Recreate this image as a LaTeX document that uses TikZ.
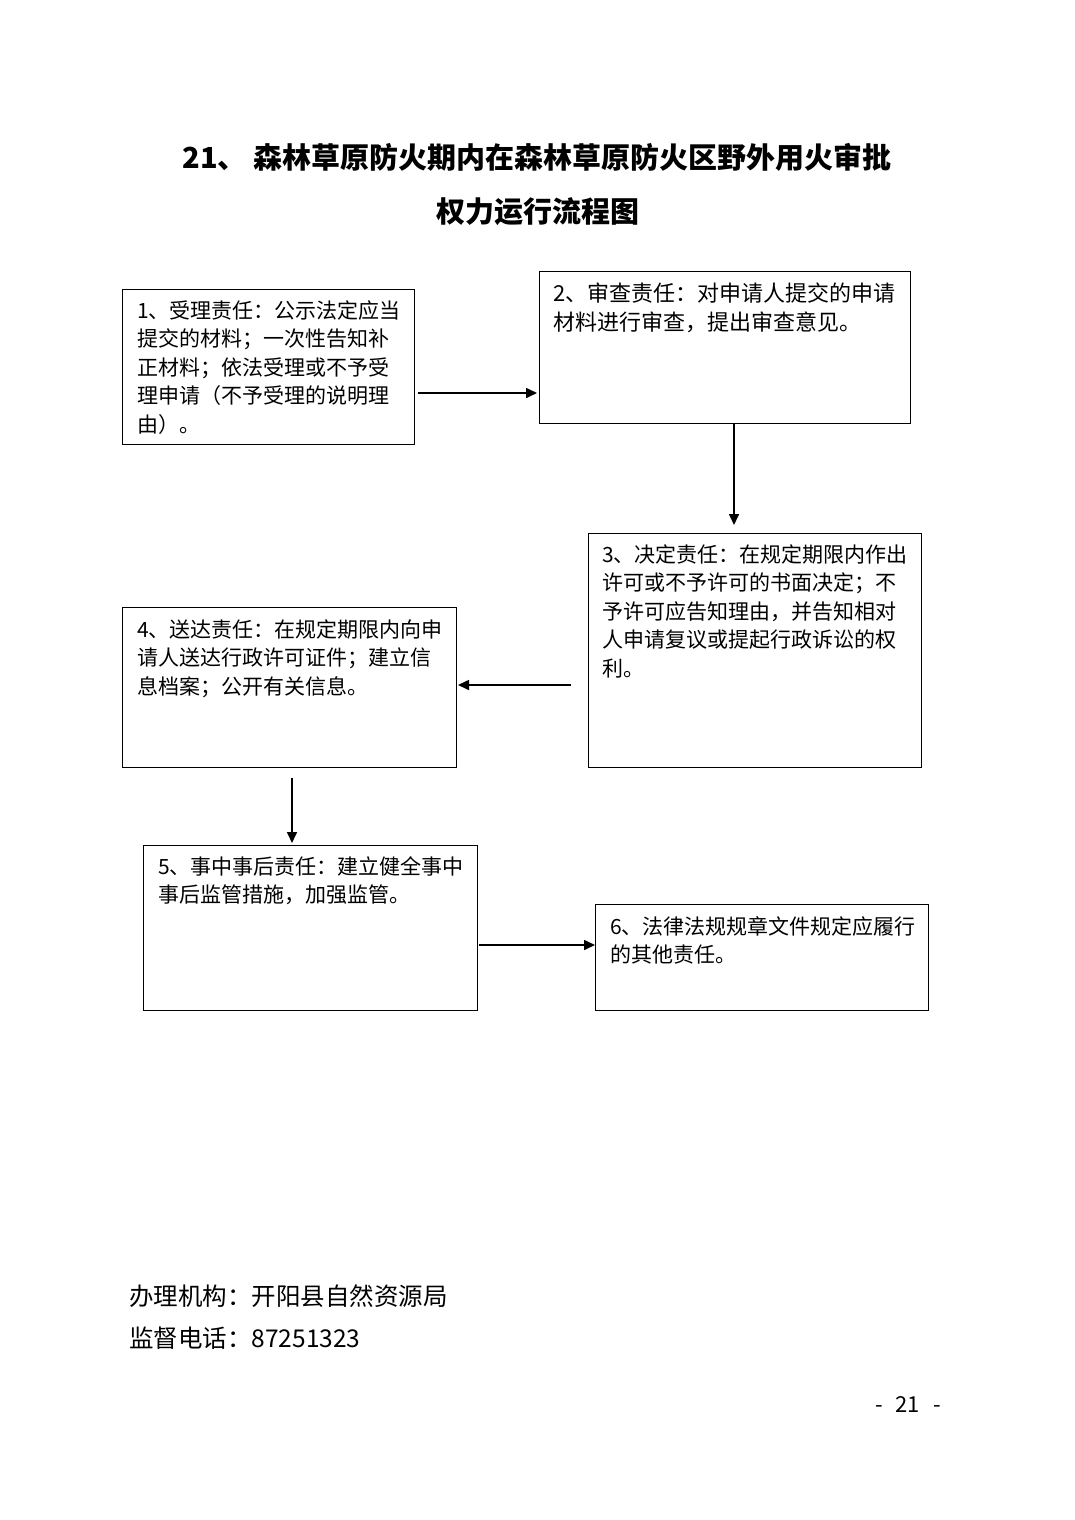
\documentclass[tikz,border=0pt]{standalone}
\usepackage{fontspec}
\setmainfont{Noto Sans CJK SC}
\usetikzlibrary{positioning,calc,arrows.meta}

\begin{document}
\begin{tikzpicture}[x=1pt,y=-1pt,
    box/.style={draw,line width=1pt,anchor=north west,inner sep=0pt},
    txt/.style={anchor=base west,align=left,inner sep=0pt,font=\fontsize{21}{28.5}\selectfont},
    arr/.style={-{Triangle[length=11pt,width=10pt]},line width=1.6pt}]
    \useasboundingbox[fill=white] (0,0) rectangle (1074,1520);
    % title
    \node[font=\bfseries\fontsize{29}{29}\selectfont] (title1) at (537,157) {21、 森林草原防火期内在森林草原防火区野外用火审批};
    \node[font=\bfseries\fontsize{29}{29}\selectfont] (title2) at (538,212) {权力运行流程图};
    % boxes
    \node[box,minimum width=292,minimum height=155] (b1) at (122,289) {};
    \node[box,minimum width=371,minimum height=152] (b2) at (539,271) {};
    \node[box,minimum width=333,minimum height=234] (b3) at (588,533) {};
    \node[box,minimum width=334,minimum height=160] (b4) at (122,607) {};
    \node[box,minimum width=334,minimum height=165] (b5) at (143,845) {};
    \node[box,minimum width=333,minimum height=106] (b6) at (595,904) {};
    % texts (base = last line)
    \node[txt] (t1) at ([shift={(15,143)}]b1.north west) {1、受理责任：公示法定应当\\提交的材料；一次性告知补\\正材料；依法受理或不予受\\理申请（不予受理的说明理\\由）。};
    \node[txt,font=\fontsize{22}{28.5}\selectfont] (t2) at ([shift={(14,59)}]b2.north west) {2、审查责任：对申请人提交的申请\\材料进行审查，提出审查意见。};
    \node[txt] (t3) at ([shift={(14,143)}]b3.north west) {3、决定责任：在规定期限内作出\\许可或不予许可的书面决定；不\\予许可应告知理由，并告知相对\\人申请复议或提起行政诉讼的权\\利。};
    \node[txt] (t4) at ([shift={(15,87)}]b4.north west) {4、送达责任：在规定期限内向申\\请人送达行政许可证件；建立信\\息档案；公开有关信息。};
    \node[txt] (t5) at ([shift={(15,57.5)}]b5.north west) {5、事中事后责任：建立健全事中\\事后监管措施，加强监管。};
    \node[txt] (t6) at ([shift={(15,58.5)}]b6.north west) {6、法律法规规章文件规定应履行\\的其他责任。};
    % arrows
    \draw[arr,shorten <=3pt,shorten >=2pt] (b1.east |- 0,393) -- (b2.west |- 0,393);
    \draw[arr,shorten >=8pt] (b2.south -| 734,0) -- (b3.north -| 734,0);
    \draw[arr,shorten <=17pt,shorten >=1pt] (b3.west |- 0,685) -- (b4.east |- 0,685);
    \draw[arr,shorten <=10pt,shorten >=2pt] (b4.south -| 292,0) -- (b5.north -| 292,0);
    \draw[arr,shorten <=1pt] (b5.east |- 0,945) -- (b6.west |- 0,945);
    % footer
    \node[anchor=west,inner sep=0pt,font=\fontsize{24.5}{24.5}\selectfont] (org) at (129,1296) {办理机构：开阳县自然资源局};
    \node[anchor=west,inner sep=0pt,font=\fontsize{24.5}{24.5}\selectfont] (tel) at (129,1338) {监督电话：87251323};
    \node[font=\fontsize{22}{22}\selectfont] (page) at (908,1404) {-\hspace{13pt}21\hspace{13pt}-};
\end{tikzpicture}
\end{document}
